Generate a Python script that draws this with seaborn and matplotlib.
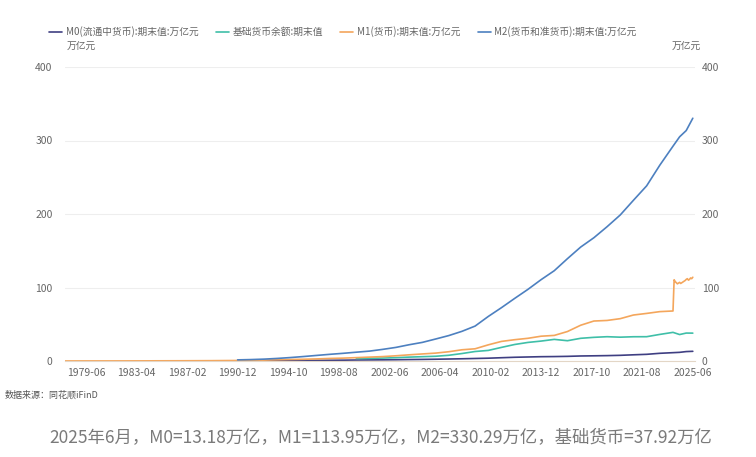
import matplotlib
matplotlib.use("Agg")
import matplotlib.pyplot as plt
from matplotlib.lines import Line2D
import seaborn as sns
import pandas as pd

# ---------------- data (万亿元) ----------------
m2_dates = [f"{y}-12" for y in range(1990, 2024)] + ["2024-06", "2024-12", "2025-06"]
m2_vals = [1.53, 1.93, 2.54, 3.49, 4.69, 6.08, 7.61, 9.10, 10.45, 11.99,
           13.46, 15.83, 18.50, 22.12, 25.32, 29.88, 34.56, 40.34, 47.52, 60.62,
           72.58, 85.16, 97.42, 110.65, 122.84, 139.23, 155.01, 167.68, 182.67, 198.65,
           218.68, 238.29, 266.43, 292.27, 305.02, 313.53, 330.29]

m0_dates = [f"{y}-12" for y in range(1990, 2024)] + ["2024-06", "2024-12", "2025-06"]
m0_vals = [0.26, 0.32, 0.43, 0.59, 0.73, 0.79, 0.88, 1.02, 1.12, 1.35,
           1.47, 1.57, 1.73, 1.97, 2.15, 2.40, 2.71, 3.03, 3.42, 3.82,
           4.46, 5.07, 5.47, 5.86, 6.03, 6.32, 6.83, 7.06, 7.32, 7.72,
           8.43, 9.08, 10.47, 11.34, 11.78, 12.82, 13.18]

base_dates = [f"{y}-12" for y in range(1999, 2024)] + ["2024-06", "2024-12", "2025-06"]
base_vals = [3.36, 3.65, 3.99, 4.51, 5.28, 5.88, 6.43, 7.78, 10.15, 12.92,
             14.40, 18.53, 22.46, 25.26, 27.10, 29.41, 27.60, 30.88, 32.19, 33.05,
             32.41, 33.00, 33.06, 36.17, 38.96, 36.00, 38.00, 37.92]

m1_dates = (["1977-11", "1980-12", "1982-12", "1984-12", "1986-12", "1988-12"]
            + [f"{y}-12" for y in range(1990, 2024)]
            + [f"2024-{m:02d}" for m in range(1, 13)]
            + [f"2025-{m:02d}" for m in range(1, 7)])
m1_vals = ([0.08, 0.12, 0.15, 0.25, 0.33, 0.45]
           + [0.70, 0.89, 1.17, 1.63, 2.05, 2.35, 2.85, 3.48, 3.90, 4.58,
              5.31, 5.99, 7.09, 8.41, 9.60, 10.73, 12.60, 15.25, 16.62, 22.00,
              26.66, 28.98, 30.87, 33.73, 34.81, 40.10, 48.66, 54.38, 55.17, 57.60,
              62.56, 64.74, 67.17, 68.05]
           + [110.5, 108.0, 106.5, 105.0, 106.0, 107.0, 105.5, 106.5, 107.5, 108.5, 109.5, 111.0]
           + [112.0, 110.0, 111.0, 113.0, 112.0, 113.95])

series_names = ["M0(流通中货币):期末值:万亿元", "基础货币余额:期末值",
                "M1(货币):期末值:万亿元", "M2(货币和准货币):期末值:万亿元"]
colors = ["#3f3f82", "#3fbfa8", "#f4a65c", "#4d80c0"]

tick_labels = ["1979-06", "1983-04", "1987-02", "1990-12", "1994-10", "1998-08",
               "2002-06", "2006-04", "2010-02", "2013-12", "2017-10", "2021-08", "2025-06"]
y_ticks = [0, 100, 200, 300, 400]

# ---------------- build table ----------------
frames = []
for name, d, v in zip(series_names, [m0_dates, base_dates, m1_dates, m2_dates],
                      [m0_vals, base_vals, m1_vals, m2_vals]):
    frames.append(pd.DataFrame({"date": pd.to_datetime(d, format="%Y-%m"), "value": v, "series": name}))
df = pd.concat(frames, ignore_index=True)

sns.set_theme(style="white")
plt.rcParams["font.family"] = ["Noto Sans CJK SC", "DejaVu Sans"]
plt.rcParams["axes.unicode_minus"] = False

fig = plt.figure(figsize=(7.56, 4.57), dpi=100)
ax = fig.add_axes([65 / 756, 1 - 361 / 457, 630 / 756, 294 / 457])

sns.lineplot(data=df, x="date", y="value", hue="series", hue_order=series_names,
             palette=colors, estimator=None, sort=True, linewidth=1.2, legend=False, ax=ax)

ax.set_xlim(pd.Timestamp("1977-11-01"), pd.Timestamp("2025-08-01"))
ax.set_ylim(0, 400)
ax.set_yticks(y_ticks)
ax.set_yticklabels([str(t) for t in y_ticks])
ax.set_xticks(pd.to_datetime(tick_labels, format="%Y-%m"))
ax.set_xticklabels(tick_labels)
ax.set_xlabel("")
ax.set_ylabel("")
ax.grid(axis="y", color="#eeeeee", linewidth=0.8)
ax.grid(axis="x", visible=False)
for s in ["top", "left", "right"]:
    ax.spines[s].set_visible(False)
ax.spines["bottom"].set_color("#e3d6c6")
ax.spines["bottom"].set_linewidth(0.8)
ax.tick_params(axis="both", length=0, labelsize=7.5, colors="#666666")
ax.tick_params(axis="y", pad=9)
ax.tick_params(axis="x", pad=5)

ax2 = ax.twinx()
ax2.set_ylim(0, 400)
ax2.set_yticks(y_ticks)
ax2.set_yticklabels([str(t) for t in y_ticks])
ax2.tick_params(axis="y", length=0, labelsize=7.5, colors="#666666", pad=5)
for s in ["top", "left", "right", "bottom"]:
    ax2.spines[s].set_visible(False)
ax2.grid(False)

handles = [Line2D([0], [0], color=c, linewidth=1.2) for c in colors]
fig.legend(handles, series_names, loc="center", bbox_to_anchor=(343 / 756, 1 - 32 / 457),
           ncol=4, frameon=False, fontsize=7, handlelength=1.3, handletextpad=0.4,
           columnspacing=1.8, labelcolor="#666666")

fig.text(81 / 756, 1 - 47 / 457, "万亿元", ha="center", va="center", fontsize=7, color="#666666")
fig.text(686 / 756, 1 - 47 / 457, "万亿元", ha="center", va="center", fontsize=7, color="#666666")
fig.text(5 / 756, 1 - 395 / 457, "数据来源：同花顺iFinD", ha="left", va="center", fontsize=6.5, color="#555555")
fig.text(381 / 756, 1 - 437 / 457,
         "2025年6月，M0=13.18万亿，M1=113.95万亿，M2=330.29万亿，基础货币=37.92万亿",
         ha="center", va="center", fontsize=12.5, color="#7a7a7a")

fig.savefig("out.png", dpi=100)
